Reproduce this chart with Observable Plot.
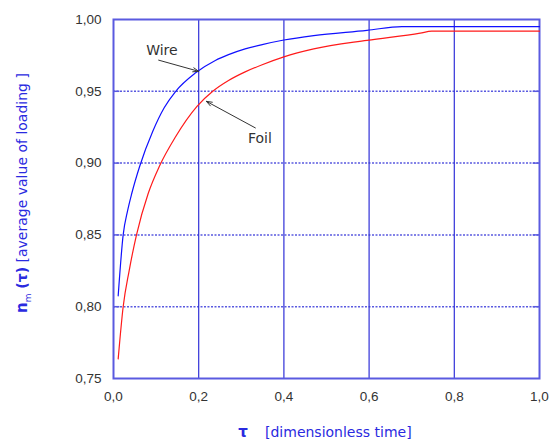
<!DOCTYPE html>
<html>
<head>
<meta charset="utf-8">
<script src="https://cdn.jsdelivr.net/npm/d3@7"></script>
<script src="https://cdn.jsdelivr.net/npm/@observablehq/plot@0.6"></script>
<style>
  html, body { margin: 0; padding: 0; background: #fff; }
  svg { font-family: "Liberation Sans", Arial, sans-serif; }
</style>
</head>
<body>
<div id="chart"></div>
<script>
// ---- data ----
const wireTau = [0.011, 0.0227, 0.033, 0.043, 0.0617, 0.092, 0.119, 0.146, 0.192, 0.239, 0.270, 0.309, 0.349, 0.400, 0.470, 0.595, 0.677, 1.000];
const wireVal = [0.8076, 0.850, 0.8667, 0.879, 0.898, 0.922, 0.9385, 0.950, 0.9627, 0.9715, 0.9755, 0.9795, 0.9825, 0.9857, 0.9888, 0.9924, 0.9951, 0.9951];

const foilTau = [0.011, 0.0227, 0.0367, 0.054, 0.0816, 0.108, 0.145, 0.196, 0.233, 0.270, 0.309, 0.349, 0.400, 0.470, 0.595, 0.720, 0.747, 1.000];
const foilVal = [0.7637, 0.800, 0.825, 0.850, 0.879, 0.898, 0.918, 0.9395, 0.950, 0.9575, 0.9635, 0.9685, 0.974, 0.9795, 0.9855, 0.9905, 0.9919, 0.9919];

const xTicks = [0, 0.2, 0.4, 0.6, 0.8, 1.0];
const yTicks = [0.75, 0.80, 0.85, 0.90, 0.95, 1.00];
const xGrid = [0.2, 0.4, 0.6, 0.8];
const yGrid = [0.80, 0.85, 0.90, 0.95];

const labelNames = ["Wire", "Foil"];
const labelTau = [0.1137, 0.3435];
const labelVal = [0.9787, 0.9172];
const arrowFromTau = [0.106, 0.333];
const arrowFromVal = [0.9717, 0.9245];
const arrowToTau = [0.200, 0.218];
const arrowToVal = [0.9639, 0.943];

const yTitleParts = ["n", "m", " (\u03C4)", " [average value of loading ]"];
const xTitleParts = ["\u03C4", "[dimensionless time]"];

// ---- build tables ----
const wire = wireTau.map((t, i) => ({tau: t, v: wireVal[i]}));
const foil = foilTau.map((t, i) => ({tau: t, v: foilVal[i]}));
const labels = labelNames.map((n, i) => ({name: n, tau: labelTau[i], v: labelVal[i]}));
const arrows = labelNames.map((n, i) => ({x1: arrowFromTau[i], y1: arrowFromVal[i], x2: arrowToTau[i], y2: arrowToVal[i]}));
const comma = (d, p) => d3.format("." + p + "f")(d).replace(".", ",");

const frameColor = "#5a5ae0";
const gridColor = "#3030d8";
const titleColor = "#2a2ae0";

const plot = Plot.plot({
  width: 553,
  height: 444,
  marginLeft: 113,
  marginRight: 14,
  marginTop: 19,
  marginBottom: 66,
  style: {fontFamily: "Liberation Sans, Arial, sans-serif", fontSize: "13.5px", color: "#333"},
  x: {domain: [0, 1], label: null},
  y: {domain: [0.75, 1.0], label: null},
  marks: [
    Plot.ruleY(yGrid, {stroke: frameColor, strokeWidth: 1.5, strokeDasharray: "2,1.5"}),
    Plot.ruleY(yGrid, {x1: 0, x2: 0.015, stroke: frameColor, strokeWidth: 1.5}),
    Plot.ruleY(yGrid, {x1: 0.985, x2: 1, stroke: frameColor, strokeWidth: 1.5}),
    Plot.ruleX(xGrid, {stroke: gridColor, strokeWidth: 1.2}),
    Plot.frame({stroke: frameColor, strokeWidth: 2}),
    Plot.axisX(xTicks, {tickSize: 0, tickPadding: 13, tickFormat: d => comma(d, 1), fontSize: 13.5, fill: "#333", label: null}),
    Plot.axisY(yTicks, {tickSize: 0, tickPadding: 12, tickFormat: d => comma(d, 2), fontSize: 13.5, fill: "#333", label: null}),
    Plot.line(wire, {x: "tau", y: "v", stroke: "#1010ff", strokeWidth: 1.2, curve: "monotone-x"}),
    Plot.line(foil, {x: "tau", y: "v", stroke: "#ff1a1a", strokeWidth: 1.2, curve: "monotone-x"}),
    Plot.arrow(arrows, {x1: "x1", y1: "y1", x2: "x2", y2: "y2", stroke: "#333", strokeWidth: 1, headLength: 9, headAngle: 40}),
    Plot.text(labels, {x: "tau", y: "v", text: "name", fontSize: 14, fontFamily: "DejaVu Sans", fill: "#333"})
  ]
});

document.getElementById("chart").appendChild(plot);

const svg = d3.select(plot);
// y axis title (rotated, reading bottom to top)
const yt = svg.append("text")
  .attr("transform", "translate(27,313) rotate(-90)")
  .attr("text-anchor", "start")
  .attr("fill", titleColor)
  .style("font-family", "DejaVu Sans, sans-serif")
  .style("font-size", "14px");
yt.append("tspan").attr("font-weight", "bold").style("font-size", "15px").text(yTitleParts[0]);
yt.append("tspan").attr("dy", 4).style("font-size", "9px").text(yTitleParts[1]);
yt.append("tspan").attr("dy", -4).attr("font-weight", "bold").style("font-size", "14px").style("white-space", "pre").text(yTitleParts[2]);
yt.append("tspan").style("white-space", "pre").text(yTitleParts[3]);

// x axis title
svg.append("text")
  .attr("x", 243).attr("y", 437)
  .attr("text-anchor", "middle")
  .attr("fill", titleColor)
  .attr("font-weight", "bold")
  .style("font-family", "DejaVu Sans, sans-serif")
  .style("font-size", "15px")
  .text(xTitleParts[0]);
svg.append("text")
  .attr("x", 265).attr("y", 437)
  .attr("text-anchor", "start")
  .attr("fill", titleColor)
  .style("font-family", "DejaVu Sans, sans-serif")
  .style("font-size", "14px")
  .text(xTitleParts[1]);
</script>
</body>
</html>
